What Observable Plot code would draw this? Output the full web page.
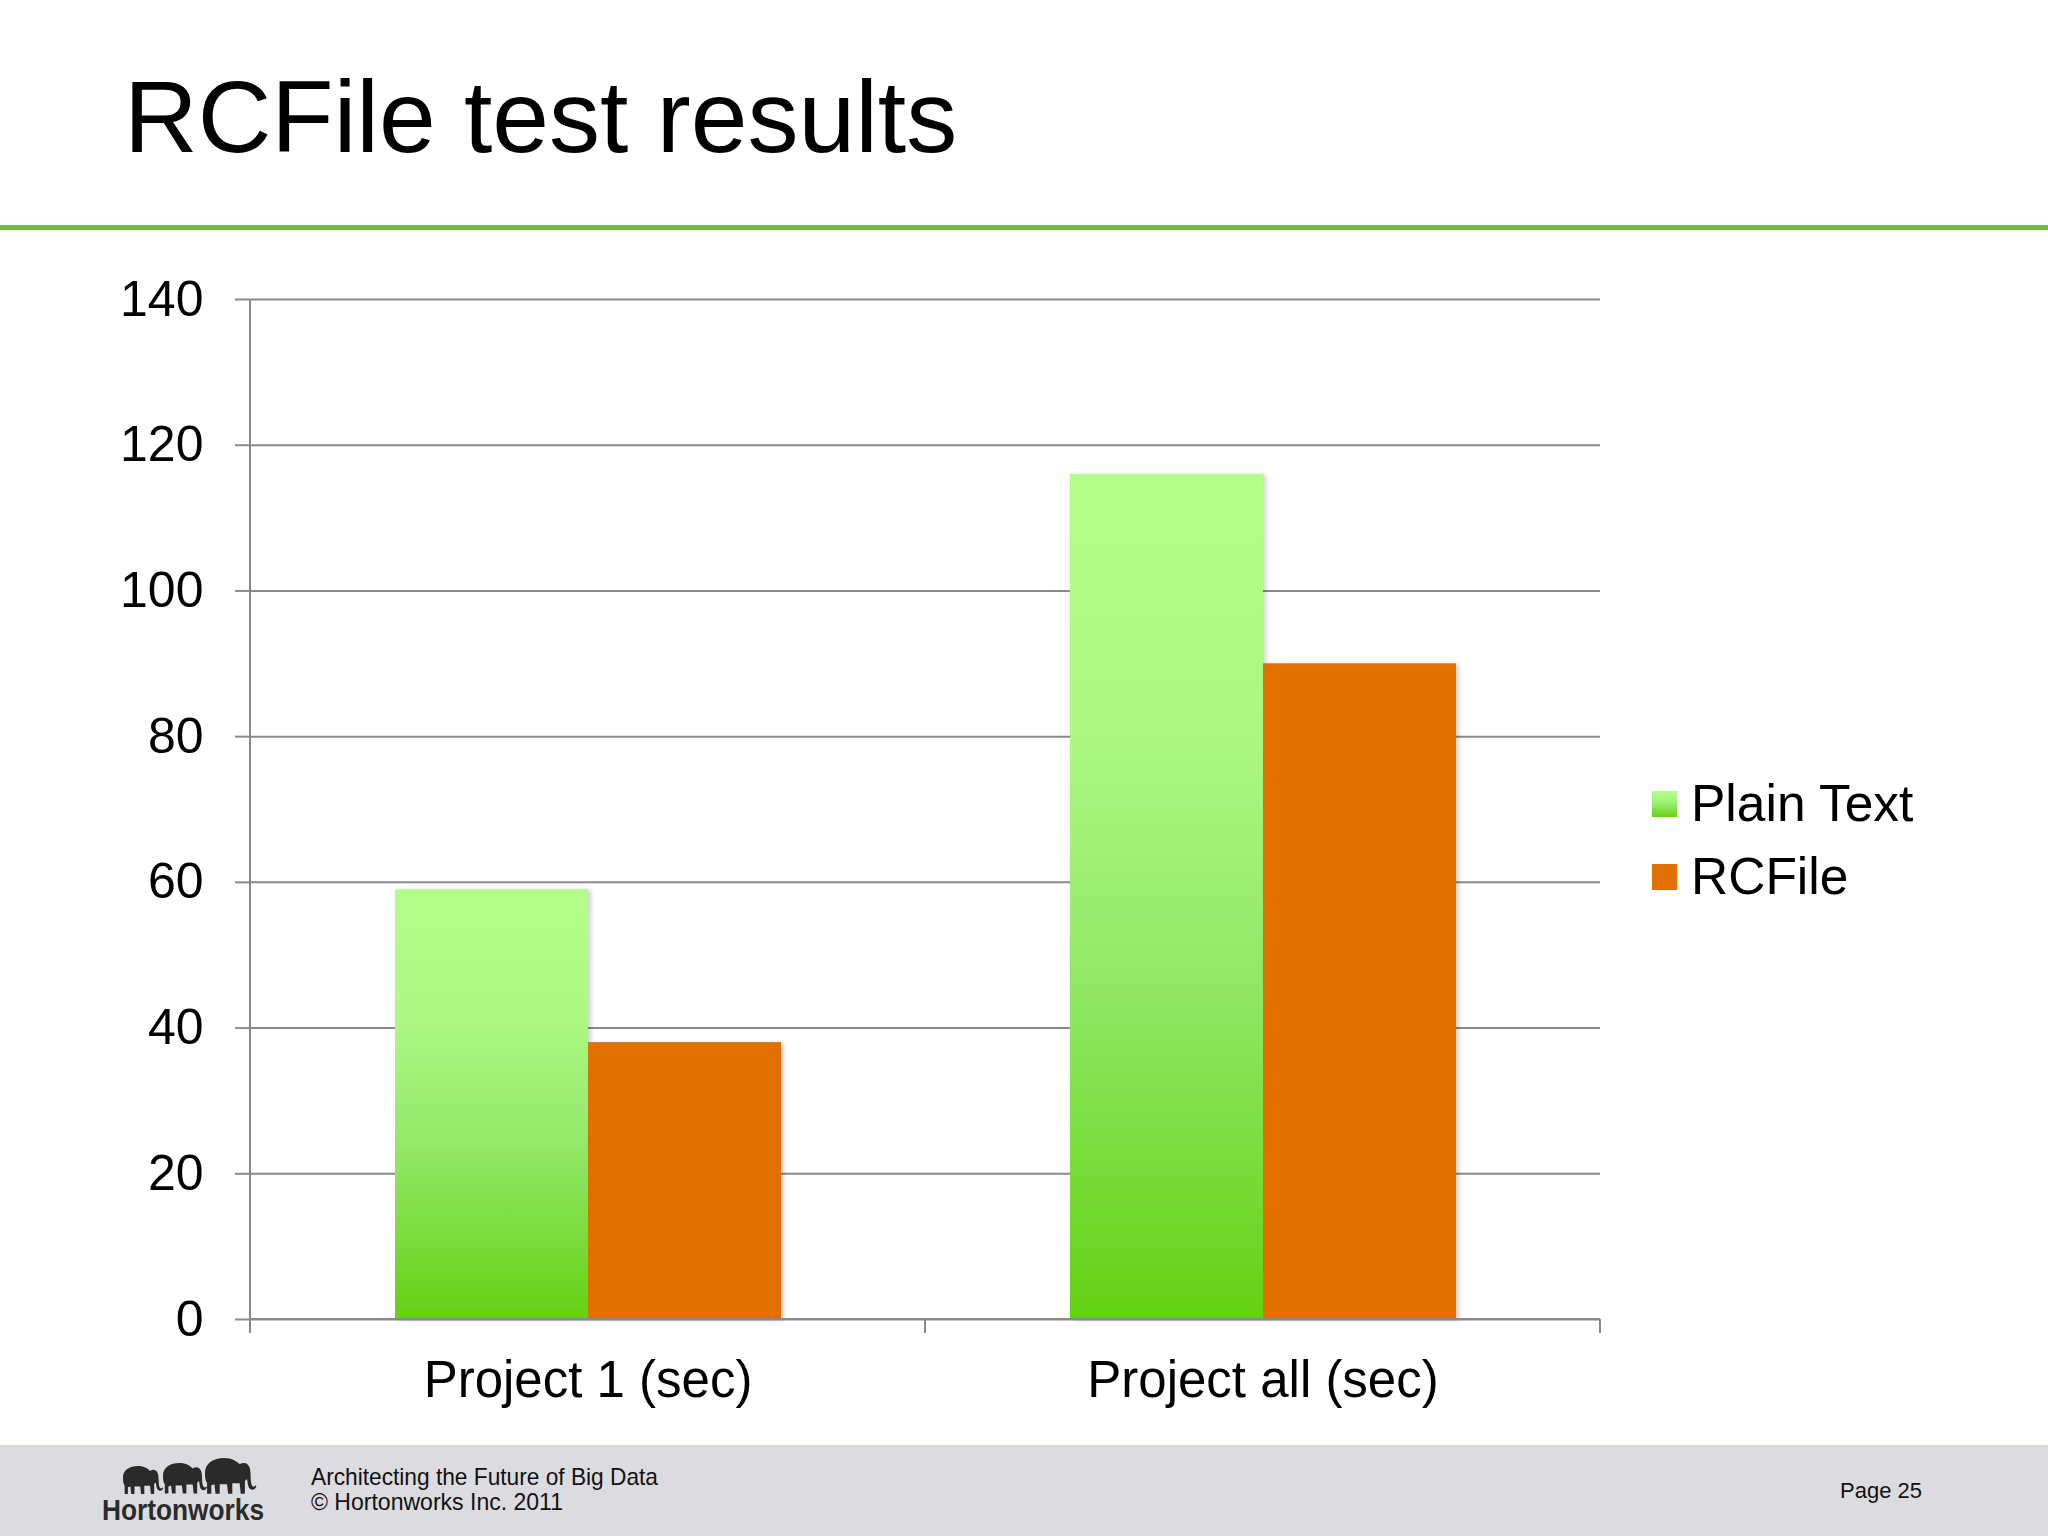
<!DOCTYPE html>
<html>
<head>
<meta charset="utf-8">
<script src="https://cdn.jsdelivr.net/npm/d3@7"></script>
<script src="https://cdn.jsdelivr.net/npm/@observablehq/plot@0.6"></script>
<style>
  html, body { margin: 0; padding: 0; background: #fff; }
  #page { position: relative; width: 2048px; height: 1536px; overflow: hidden; background: #fff;
          font-family: "Liberation Sans", Arial, Helvetica, sans-serif; }
  #chart { position: absolute; left: 0; top: 240px; }
  #deco { position: absolute; left: 0; top: 0; }
  #legend { position: absolute; left: 1652px; top: 767px; z-index: 2; }
  .row { display: flex; align-items: center; height: 73px; line-height: 73px; font-size: 51.5px; color: #000; }
  .sw { width: 25px; height: 26px; margin-right: 14px; }
</style>
</head>
<body>
<div id="page">
  <svg id="deco" width="2048" height="1536"></svg>
  <div id="chart"></div>
  <div id="legend"></div>
</div>
<script>
// ---- data ----
const categories = ["Project 1 (sec)", "Project all (sec)"];
const series = ["Plain Text", "RCFile"];
const plainText = [59, 116];
const rcFile = [38, 90];
const yTicks = [0, 20, 40, 60, 80, 100, 120, 140];
const seriesColors = ["url(#plainGrad)", "#e17000"];
const legendSwatches = ["linear-gradient(to bottom, #b4ff8c, #9eef75 45%, #64d114)", "#e17000"];
const titleText = "RCFile test results";
const footerLines = ["Architecting the Future of Big Data", "\u00A9 Hortonworks Inc. 2011"];
const pageText = "Page 25";
const logoText = "Hortonworks";

const data = categories.flatMap((c, i) => [
  {category: c, series: series[0], value: plainText[i]},
  {category: c, series: series[1], value: rcFile[i]}
]);

const gridColor = "#8a8a8a";

const chart = Plot.plot({
  width: 2048,
  height: 1204,
  marginLeft: 250,
  marginRight: 448,
  marginTop: 59,
  marginBottom: 125,
  style: {background: "transparent", fontFamily: "'Liberation Sans', Arial, sans-serif", fontSize: "51px", color: "#000"},
  fx: {domain: categories, padding: 0, axis: "bottom", tickSize: 0, tickPadding: 41, label: null},
  x: {domain: series, paddingInner: 0, paddingOuter: 0.744, axis: null},
  y: {domain: [0, 140], label: null},
  color: {domain: series, range: seriesColors},
  marks: [
    Plot.gridY(yTicks, {stroke: gridColor, strokeOpacity: 1, strokeWidth: 2}),
    Plot.barY(data, {fx: "category", x: "series", y: "value", fill: "series", inset: 0}),
    Plot.axisY(yTicks, {tickSize: 15, tickPadding: 32, stroke: gridColor, strokeWidth: 2, fill: "#000", fontSize: 50, label: null, tickFormat: d => String(d)})
  ]
});
document.getElementById("chart").appendChild(chart);

// gradient + shadow defs
const svg = d3.select(chart);
const defs = svg.insert("defs", ":first-child");
const g = defs.append("linearGradient").attr("id", "plainGrad").attr("x1", 0).attr("y1", 0).attr("x2", 0).attr("y2", 1);
[[0, "#b4ff8c"], [0.3, "#acf883"], [0.6, "#92e867"], [1, "#64d114"]].forEach(([o, c]) =>
  g.append("stop").attr("offset", o).attr("stop-color", c));
const f = defs.append("filter").attr("id", "barShadow").attr("x", "-5%").attr("y", "-5%").attr("width", "115%").attr("height", "110%");
f.append("feDropShadow").attr("dx", 3).attr("dy", 1).attr("stdDeviation", 2).attr("flood-color", "#000").attr("flood-opacity", 0.18);
svg.selectAll("rect").filter(function() { return this.getAttribute("fill") || this.parentNode.getAttribute("fill"); })
  .attr("filter", "url(#barShadow)");

// axis line and category boundary ticks from the scales
const fxS = chart.scale("fx"), yS = chart.scale("y");
const bounds = categories.map(c => fxS.apply(c));
bounds.push(fxS.apply(categories[categories.length - 1]) + fxS.bandwidth);
const y0 = yS.apply(0), yTop = yS.apply(140);
const extra = svg.append("g").attr("stroke", gridColor).attr("stroke-width", 2);
extra.append("line").attr("x1", bounds[0]).attr("x2", bounds[0]).attr("y1", yTop).attr("y2", y0 + 14);
bounds.forEach(b => extra.append("line").attr("x1", b).attr("x2", b).attr("y1", y0).attr("y2", y0 + 14));
extra.append("line").attr("x1", bounds[0]).attr("x2", bounds[bounds.length - 1]).attr("y1", y0).attr("y2", y0);

// legend
const legend = d3.select("#legend");
series.forEach((s, i) => {
  const r = legend.append("div").attr("class", "row");
  r.append("div").attr("class", "sw").style("background", legendSwatches[i]);
  r.append("span").text(s);
});

// title, rule, footer
const deco = d3.select("#deco");
const font = "'Liberation Sans', Arial, sans-serif";
deco.append("text").attr("x", 124).attr("y", 152).attr("font-family", font).attr("font-size", 102).attr("fill", "#000").text(titleText);
deco.append("rect").attr("x", 0).attr("y", 225).attr("width", 2048).attr("height", 5).attr("fill", "#6cbd3c");
const footGrad = deco.append("defs").append("linearGradient").attr("id", "footGrad").attr("x1", 0).attr("y1", 0).attr("x2", 0).attr("y2", 1);
footGrad.append("stop").attr("offset", 0).attr("stop-color", "#d9d9dc");
footGrad.append("stop").attr("offset", 0.1).attr("stop-color", "#dcdce0");
footGrad.append("stop").attr("offset", 1).attr("stop-color", "#dcdce0");
deco.append("rect").attr("x", 0).attr("y", 1445).attr("width", 2048).attr("height", 91).attr("fill", "url(#footGrad)");
deco.append("text").attr("x", 311).attr("y", 1485).attr("font-family", font).attr("font-size", 24)
  .attr("textLength", 347).attr("lengthAdjust", "spacingAndGlyphs").attr("fill", "#111").text(footerLines[0]);
deco.append("text").attr("x", 311).attr("y", 1510).attr("font-family", font).attr("font-size", 24)
  .attr("textLength", 252).attr("lengthAdjust", "spacingAndGlyphs").attr("fill", "#111").text(footerLines[1]);
deco.append("text").attr("x", 1840).attr("y", 1498).attr("font-family", font).attr("font-size", 22).attr("fill", "#111").text(pageText);
deco.append("text").attr("x", 102).attr("y", 1520).attr("font-family", font).attr("font-size", 30).attr("font-weight", "bold")
  .attr("textLength", 162).attr("lengthAdjust", "spacingAndGlyphs").attr("fill", "#2b2b2b").text(logoText);
// simple elephant silhouettes for the logo
const eleph = "M0,14 C0,5 8,0 18,0 C26,0 30,3 33,6 C36,4 40,4 42,8 C44,12 43,18 44,24 C45,28 47,28 48,26 L49,27 C47,32 42,31 41,26 L40,20 L38,22 L38,34 L34,34 L33,24 L26,24 L26,34 L22,34 L21,25 L14,25 L14,34 L10,34 L9,25 L6,26 L6,34 L2,34 L2,24 C0,21 0,18 0,14 Z";
[[123, 1466, 0.82], [163, 1463, 0.9], [205, 1458, 1.05]].forEach(([x, y, s]) =>
  deco.append("path").attr("d", eleph).attr("transform", `translate(${x},${y}) scale(${s})`).attr("fill", "#2a2a2a"));
</script>
</body>
</html>
